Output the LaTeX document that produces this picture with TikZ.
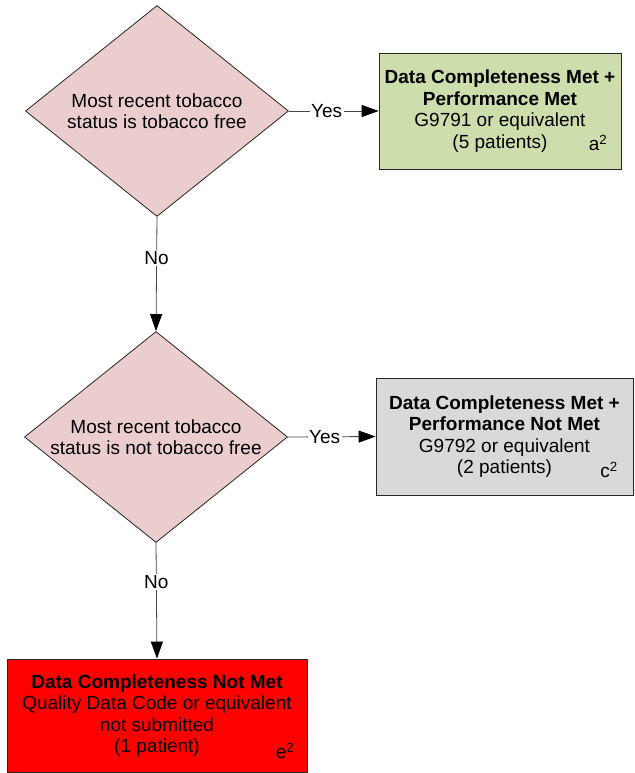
\documentclass[tikz,border=0pt]{standalone}
\usepackage{xcolor}
\usepackage{fontspec}
\setmainfont{Liberation Sans}
\usepackage{tikz}
\usetikzlibrary{shapes.geometric,arrows.meta}

\definecolor{decpink}{RGB}{234,205,204}
\definecolor{metgreen}{RGB}{205,221,172}
\definecolor{notmetgray}{RGB}{217,217,217}
\definecolor{flowgray}{RGB}{70,70,70}

\begin{document}
\begin{tikzpicture}[x=1pt,y=-1pt,
    font=\fontsize{19}{21.5}\selectfont,
    decision/.style={draw=black!85, line width=0.8pt, fill=decpink, diamond,
      aspect=1.25, inner sep=0pt, minimum width=263pt, minimum height=211pt,
      align=center},
    outcome/.style={draw=black!85, line width=0.8pt, rectangle, inner sep=0pt,
      align=center},
    flow/.style={draw=flowgray, line width=0.8pt,
      -{Triangle[length=17pt,width=12pt,color=black]}},
    answer/.style={fill=white, inner sep=1.5pt}]
    \useasboundingbox (0,0) rectangle (634,773);

    % decisions
    \node[decision] (d1) at (157,111) {Most recent tobacco\\status is tobacco free};
    \node[decision] (d2) at (156,437) {Most recent tobacco\\status is not tobacco free};

    % outcomes
    \node[outcome, fill=metgreen, minimum width=242pt, minimum height=116pt]
      (met) at (500,111) {\textbf{Data Completeness Met +}\\\textbf{Performance Met}\\G9791 or equivalent\\(5 patients)};
    \node (metsup) at (598,143) {a\textsuperscript{2}};

    \node[outcome, fill=notmetgray, minimum width=257pt, minimum height=117pt]
      (notmet) at (504.5,436.5) {\textbf{Data Completeness Met +}\\\textbf{Performance Not Met}\\G9792 or equivalent\\(2 patients)};
    \node (notmetsup) at (609,470) {c\textsuperscript{2}};

    \node[outcome, fill=red, minimum width=300pt, minimum height=113pt]
      (nodata) at (157,715.5) {\textbf{Data Completeness Not Met}\\Quality Data Code or equivalent\\not submitted\\(1 patient)};
    \node (nodatasup) at (285,751) {e\textsuperscript{2}};

    % connectors
    \draw[flow] (d1.east) -- node[answer, pos=0.42] (yes1) {Yes} (met.west);
    \draw[flow] (d1.south) -- node[answer, pos=0.36] (no1) {No} (d2.north);
    \draw[flow] (d2.east) -- node[answer, pos=0.42] (yes2) {Yes} (notmet.west);
    \draw[flow] (d2.south) -- node[answer, pos=0.34] (no2) {No} (nodata.north);
\end{tikzpicture}
\end{document}
